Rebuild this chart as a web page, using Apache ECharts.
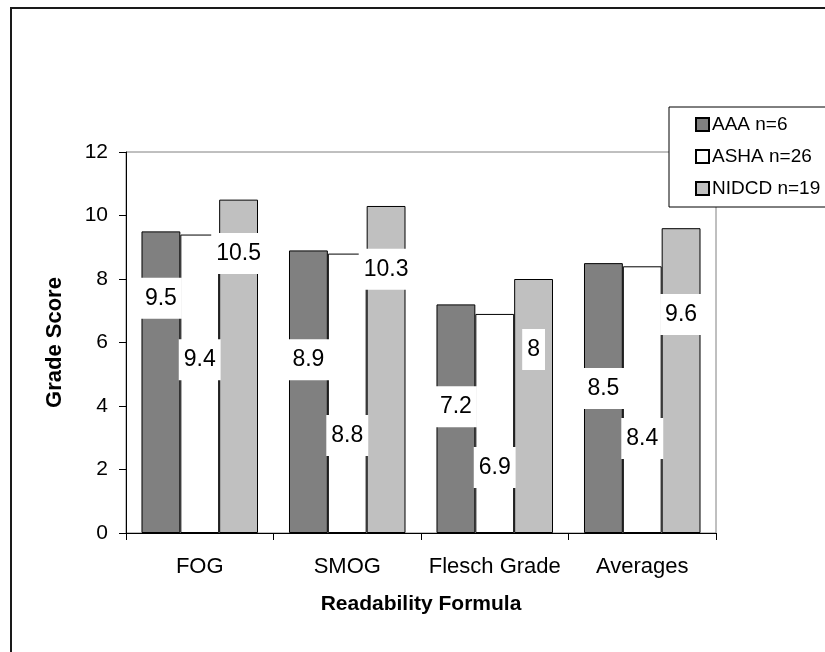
<!DOCTYPE html>
<html>
<head>
<meta charset="utf-8">
<script src="https://cdn.jsdelivr.net/npm/echarts@6/dist/echarts.min.js"></script>
<style>
  html, body { margin: 0; padding: 0; background: #fff; }
  #chart { width: 825px; height: 652px; }
</style>
</head>
<body>
<div id="chart"></div>
<script>
// Readability grade scores per formula and organisation
const categories = ['FOG', 'SMOG', 'Flesch Grade', 'Averages'];
const aaaScores = [9.5, 8.9, 7.2, 8.5];
const ashaScores = [9.4, 8.8, 6.9, 8.4];
const nidcdScores = [10.5, 10.3, 8, 9.6];
const seriesNames = ['AAA n=6', 'ASHA n=26', 'NIDCD n=19'];
const yMin = 0, yMax = 12, yStep = 2;

// ---- layout and styling ----
const FONT = '"Liberation Sans", Arial, sans-serif';
const grid = { left: 126, top: 152, right: 109, bottom: 119 };
const plotHeight = 652 - grid.top - grid.bottom;
const pxPerUnit = plotHeight / (yMax - yMin);
const labelFont = 23, labelLine = 21, labelPadV = 10;
const labelBoxH = labelLine + 2 * labelPadV;

// Height (in grade units) at which each value tag sits inside its bar
const tagHeights = [
  [7.39, 5.46, 3.98, 4.55],
  [5.46, 3.07, 2.06, 2.98],
  [8.80, 8.31, 5.78, 6.88]
];
const fills = ['#808080', '#ffffff', '#c0c0c0'];

function barSeries(idx, values) {
  return {
    name: seriesNames[idx],
    type: 'bar',
    barGap: '0%',
    barCategoryGap: '21%',
    itemStyle: { color: fills[idx], borderColor: '#000', borderWidth: 1 },
    label: {
      show: true,
      position: 'insideBottom',
      color: '#000',
      fontFamily: FONT,
      fontSize: labelFont,
      lineHeight: labelLine,
      backgroundColor: '#fff',
      padding: [labelPadV, 5]
    },
    emphasis: { disabled: true },
    data: values.map((v, i) => ({
      value: v,
      label: { distance: tagHeights[idx][i] * pxPerUnit - labelBoxH / 2 }
    }))
  };
}

const chart = echarts.init(document.getElementById('chart'));
chart.setOption({
  animation: false,
  backgroundColor: '#fff',
  textStyle: { fontFamily: FONT, color: '#000' },
  graphic: [{
    type: 'rect',
    shape: { x: 11, y: 8, width: 900, height: 900 },
    style: { fill: 'none', stroke: '#1a1a1a', lineWidth: 2 },
    silent: true,
    z: -10
  }],
  grid: {
    left: grid.left, top: grid.top, right: grid.right, bottom: grid.bottom,
    show: true, borderColor: '#808080', borderWidth: 1, backgroundColor: 'transparent'
  },
  legend: {
    orient: 'vertical',
    left: 669,
    top: 107,
    padding: [8, 20, 9, 26],
    itemGap: 13,
    itemWidth: 13,
    itemHeight: 13,
    icon: 'rect',
    backgroundColor: '#fff',
    borderColor: '#000',
    borderWidth: 1,
    borderRadius: 0,
    textStyle: { fontFamily: FONT, fontSize: 19, color: '#000', padding: [0, 0, 0, -2] },
    data: seriesNames
  },
  xAxis: {
    type: 'category',
    data: categories,
    name: 'Readability Formula',
    nameLocation: 'middle',
    nameGap: 61,
    nameTextStyle: { fontFamily: FONT, fontSize: 21, fontWeight: 'bold', color: '#000' },
    axisLine: { lineStyle: { color: '#000', width: 1 } },
    axisTick: { show: true, length: 7, lineStyle: { color: '#000' } },
    axisLabel: { interval: 0, fontFamily: FONT, fontSize: 22, color: '#000', margin: 23 },
    splitLine: { show: false }
  },
  yAxis: {
    type: 'value',
    min: yMin,
    max: yMax,
    interval: yStep,
    name: 'Grade Score',
    nameLocation: 'middle',
    nameGap: 60,
    nameTextStyle: { fontFamily: FONT, fontSize: 22, fontWeight: 'bold', color: '#000' },
    axisLine: { show: true, lineStyle: { color: '#000', width: 1 } },
    axisTick: { show: true, length: 7, lineStyle: { color: '#000' } },
    axisLabel: { fontFamily: FONT, fontSize: 21, color: '#000', margin: 18 },
    splitLine: { show: false }
  },
  series: [
    barSeries(0, aaaScores),
    barSeries(1, ashaScores),
    barSeries(2, nidcdScores)
  ]
});
</script>
</body>
</html>
